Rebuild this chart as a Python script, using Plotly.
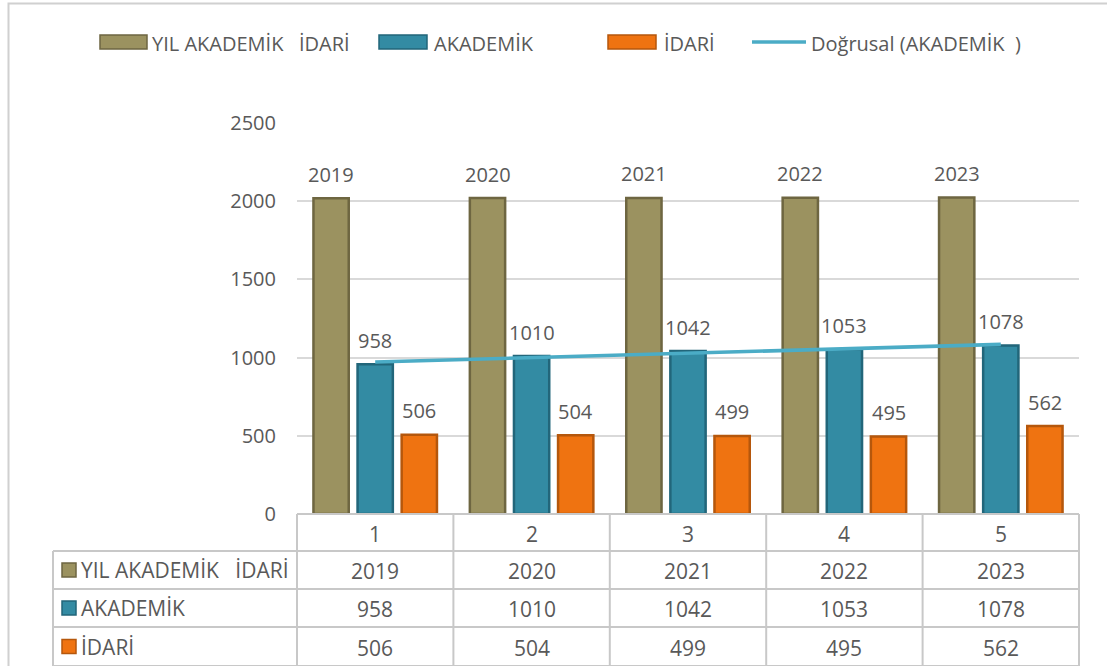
import numpy as np
import plotly.graph_objects as go

# ---------------- data ----------------
categories = [1, 2, 3, 4, 5]
series_names = ["YIL AKADEMİK   İDARİ", "AKADEMİK", "İDARİ"]
yil = [2019, 2020, 2021, 2022, 2023]
akademik = [958, 1010, 1042, 1053, 1078]
idari = [506, 504, 499, 495, 562]
trend_name = "Doğrusal (AKADEMİK  )"
y_ticks = [0, 500, 1000, 1500, 2000, 2500]

# ---------------- style ----------------
W, H = 1107, 666
ML, MR, MT, MB = 297, 28, 123, 152
PW, PH = W - ML - MR, H - MT - MB
FONT = "Open Sans"
TXT = "#595959"
GRID = "#D9D9D9"
TBL = "#C8C8C8"
fills = ["#9B9260", "#338BA3", "#EF7311"]
edges = ["#6E6641", "#22667A", "#B5570C"]
trend_color = "#4BACC6"
BARGAP = 0.154
BARGROUPGAP = 0.2


def px(xp):
    return (xp - ML) / PW


def py(yp):
    return (H - MB - yp) / PH


fig = go.Figure()
all_series = [yil, akademik, idari]
for k, (nm, vals) in enumerate(zip(series_names, all_series)):
    fig.add_trace(go.Bar(
        x=categories, y=vals, name=nm,
        marker=dict(color=fills[k], line=dict(color=edges[k], width=2.5)),
        showlegend=False, hoverinfo="y",
    ))

# linear trend of AKADEMİK
coef = np.polyfit(categories, akademik, 1)
trend_y = np.polyval(coef, categories)
fig.add_trace(go.Scatter(
    x=categories, y=trend_y, mode="lines", name=trend_name,
    line=dict(color=trend_color, width=3.6), showlegend=False, hoverinfo="skip",
))

shapes = []
annotations = []

# data labels above bars
pitch = (1 - BARGAP) / 3
for k, vals in enumerate(all_series):
    for c, v in zip(categories, vals):
        annotations.append(dict(
            x=c + (k - 1) * pitch, y=v, xref="x", yref="y",
            text=str(v), showarrow=False, xanchor="center", yanchor="middle",
            yshift=24, font=dict(family=FONT, size=20, color=TXT),
        ))

# ---------------- custom legend ----------------
leg_y0, leg_y1 = 35, 49
leg_items = [
    (100, 147, 150, series_names[0], 0),
    (379, 427, 432, series_names[1], 1),
    (608, 656, 662, series_names[2], 2),
]
for x0, x1, tx, label, k in leg_items:
    shapes.append(dict(type="rect", xref="paper", yref="paper",
                       x0=px(x0), x1=px(x1), y0=py(leg_y1), y1=py(leg_y0),
                       fillcolor=fills[k], line=dict(color=edges[k], width=1.5)))
    annotations.append(dict(x=px(tx), y=py(43), xref="paper", yref="paper",
                            text=label, showarrow=False, xanchor="left",
                            yanchor="middle",
                            font=dict(family=FONT, size=20, color=TXT)))
shapes.append(dict(type="line", xref="paper", yref="paper",
                   x0=px(752), x1=px(806), y0=py(42), y1=py(42),
                   line=dict(color=trend_color, width=3.6)))
annotations.append(dict(x=px(809), y=py(43), xref="paper", yref="paper",
                        text=trend_name, showarrow=False, xanchor="left",
                        yanchor="middle",
                        font=dict(family=FONT, size=20, color=TXT)))

# ---------------- data table ----------------
row_tops = [514, 551, 589, 627, 666]
left_col = 53
ncat = len(categories)
col_edges = [px(ML + i * PW / ncat) for i in range(ncat + 1)]

def hline(x0, x1, yp):
    shapes.append(dict(type="line", xref="paper", yref="paper",
                       x0=x0, x1=x1, y0=py(yp), y1=py(yp),
                       line=dict(color=TBL, width=2)))

def vline(xpap, y0p, y1p):
    shapes.append(dict(type="line", xref="paper", yref="paper",
                       x0=xpap, x1=xpap, y0=py(y0p), y1=py(y1p),
                       line=dict(color=TBL, width=2)))

hline(0, 1, row_tops[0])
for yp in row_tops[1:]:
    hline(px(left_col), 1, yp)
for xe in col_edges:
    vline(xe, row_tops[0], row_tops[-1] + 5)
vline(px(left_col), row_tops[1], row_tops[-1] + 5)

# header row (category numbers)
for i, c in enumerate(categories):
    annotations.append(dict(x=(col_edges[i] + col_edges[i + 1]) / 2,
                            y=py((row_tops[0] + row_tops[1]) / 2 + 1),
                            xref="paper", yref="paper", text=str(c),
                            showarrow=False, xanchor="center", yanchor="middle",
                            font=dict(family=FONT, size=21, color=TXT)))
# body rows
for r, (nm, vals) in enumerate(zip(series_names, all_series)):
    yc = (row_tops[r + 1] + row_tops[r + 2]) / 2
    shapes.append(dict(type="rect", xref="paper", yref="paper",
                       x0=px(62), x1=px(76), y0=py(yc + 7), y1=py(yc - 7),
                       fillcolor=fills[r], line=dict(color=edges[r], width=1.5)))
    annotations.append(dict(x=px(79), y=py(yc), xref="paper", yref="paper",
                            text=nm, showarrow=False, xanchor="left",
                            yanchor="middle",
                            font=dict(family=FONT, size=21, color=TXT)))
    for i, v in enumerate(vals):
        annotations.append(dict(x=(col_edges[i] + col_edges[i + 1]) / 2,
                                y=py(yc + 1), xref="paper", yref="paper",
                                text=str(v), showarrow=False, xanchor="center",
                                yanchor="middle",
                                font=dict(family=FONT, size=21, color=TXT)))

# outer chart border
shapes.append(dict(type="rect", xref="paper", yref="paper",
                   x0=px(8.5), x1=px(W + 20), y0=py(H + 20), y1=py(3.5),
                   line=dict(color="#D0D0D0", width=2), fillcolor="rgba(0,0,0,0)"))

fig.update_layout(
    width=W, height=H,
    margin=dict(l=ML, r=MR, t=MT, b=MB, pad=0),
    paper_bgcolor="white", plot_bgcolor="white",
    barmode="group", bargap=BARGAP, bargroupgap=BARGROUPGAP,
    font=dict(family=FONT, size=20, color=TXT),
    xaxis=dict(range=[0.5, 5.5], showticklabels=False, showgrid=False,
               zeroline=False, fixedrange=True),
    yaxis=dict(range=[0, 2500], tickvals=y_ticks, showgrid=True,
               gridcolor=GRID, gridwidth=2, zeroline=False,
               ticklabelstandoff=20,
               tickfont=dict(family=FONT, size=20, color=TXT)),
    shapes=shapes, annotations=annotations,
    showlegend=False,
)

fig.write_html(
    "out.html",
    config={"displayModeBar": False},
    post_script="document.body.style.margin='0';document.body.style.overflow='hidden';",
)
